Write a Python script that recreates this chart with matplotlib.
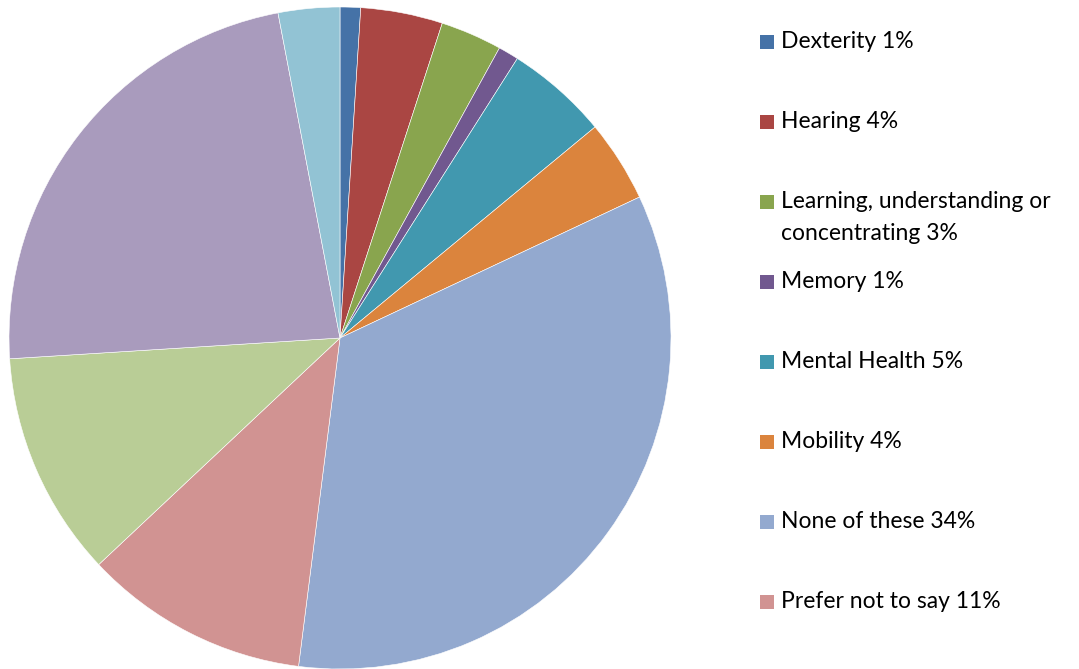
import matplotlib
matplotlib.use("Agg")
import matplotlib.pyplot as plt
from matplotlib.patches import Rectangle

# slice data (legend in the original is cut off after the 8th entry)
labels = ["Dexterity", "Hearing", "Learning, understanding or\nconcentrating",
          "Memory", "Mental Health", "Mobility", "None of these",
          "Prefer not to say", "Sight", "Stamina, breathing or fatigue", "Other"]
values = [1, 4, 3, 1, 5, 4, 34, 11, 11, 23, 3]
colors = ["#4572A7", "#AA4643", "#89A54E", "#71588F", "#4198AF", "#DB843D",
          "#93A9CF", "#D19392", "#B9CD96", "#A99BBD", "#92C3D4"]
n_legend = 8

W, H = 1079, 669
fig = plt.figure(figsize=(W / 100, H / 100), dpi=100)

# pie axes: centre ~ (340, 338) px, radius ~330 px
cx, cy, r = 340, 338, 331
ax = fig.add_axes([(cx - r) / W, (H - cy - r) / H, 2 * r / W, 2 * r / H])
ax.pie(values, colors=colors, startangle=90, counterclock=False,
       wedgeprops=dict(edgecolor="white", linewidth=0.4))
ax.set_xlim(-1, 1)
ax.set_ylim(-1, 1)
ax.set_aspect("equal")
ax.axis("off")

# legend drawn by hand, entries 80 px apart
for i in range(n_legend):
    y = 42 + 80 * i
    fig.patches.append(Rectangle((760 / W, (H - y - 7) / H), 14 / W, 14 / H,
                                 transform=fig.transFigure, facecolor=colors[i],
                                 edgecolor="none"))
    lines = ("%s %d%%" % (labels[i], values[i])).split("\n")
    for j, line in enumerate(lines):
        fig.text(781 / W, (H - y - 32 * j) / H, line, fontsize=16.5,
                 family="Lato", va="center", ha="left")

fig.savefig("out.png", dpi=100)
